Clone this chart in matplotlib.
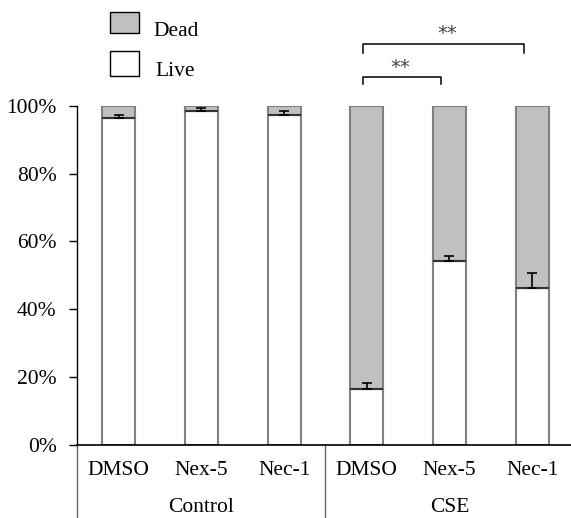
import numpy as np
import matplotlib.pyplot as plt
from matplotlib.patches import Rectangle
import matplotlib.transforms as mtransforms

plt.rcParams['font.family'] = ['Liberation Serif', 'DejaVu Serif']

# -------------------
# DATA
# -------------------
groups = ["Control", "CSE"]
treatments = ["DMSO", "Nex-5", "Nec-1", "DMSO", "Nex-5", "Nec-1"]
live = [96.4, 98.4, 97.3, 16.5, 54.3, 46.2]
err = [1.0, 1.0, 1.0, 1.8, 1.3, 4.4]
dead = [100 - v for v in live]

# significance brackets: (start bar, end bar, label)
sig_pairs = [(3, 4, "**"), (3, 5, "**")]

# -------------------
# PLOT
# -------------------
fig = plt.figure(figsize=(5.71, 5.18), dpi=100)
ax = fig.add_axes([0.1357, 0.1415, 0.8643, 0.6544])

x = np.arange(len(treatments))
w = 0.40
edge = "#808080"

ax.bar(x, live, w, color="white", edgecolor=edge, linewidth=1.5, zorder=2)
ax.bar(x, dead, w, bottom=live, color="#c0c0c0", edgecolor=edge,
       linewidth=1.5, zorder=2)
# line between live and dead
ax.hlines(live, x - w / 2, x + w / 2, color="#333333", linewidth=1.5, zorder=3)
ax.errorbar(x, live, yerr=[np.zeros(len(err)), err], fmt="none",
            ecolor="black", elinewidth=1.2, capsize=3.5, capthick=1.2, zorder=4)

ax.set_xlim(-0.5, 5.47)
ax.set_ylim(0, 100)
ax.set_yticks([0, 20, 40, 60, 80, 100])
ax.set_yticklabels([f"{v}%" for v in range(0, 101, 20)], fontsize=15.5)
ax.tick_params(axis="y", direction="out", length=6, width=1, pad=9)
ax.set_xticks([])
for s in ["top", "right"]:
    ax.spines[s].set_visible(False)
ax.spines["left"].set_linewidth(1)
ax.spines["bottom"].set_linewidth(1.2)

# category labels
trans = mtransforms.blended_transform_factory(ax.transData, ax.transAxes)
for xi, t in zip(x, treatments):
    ax.text(xi, -0.075, t, transform=trans, ha="center", va="center",
            fontsize=15.5)
for gi, g in enumerate(groups):
    ax.text(gi * 3 + 1, -0.185, g, transform=trans, ha="center", va="center",
            fontsize=15.5)
for xs in [-0.5, 2.5]:
    ax.plot([xs, xs], [0, -0.22], transform=trans, color="#666666",
            linewidth=1, clip_on=False)

# significance brackets
levels = {(3, 4): (106.4, 108.6, 111.4), (3, 5): (115.6, 118.2, 121.4)}
for a, b, lab in sig_pairs:
    lo, hi, ty = levels[(a, b)]
    xa, xb = x[a] - 0.05, x[b] - 0.1
    ax.plot([xa, xa, xb, xb], [lo, hi, hi, lo], color="black",
            linewidth=1.1, clip_on=False)
    ax.text((xa + xb) / 2 + (0.05 if b == 5 else -0.02), ty, lab,
            ha="center", va="center", fontsize=14, color="#444444",
            family="DejaVu Sans")

# legend
W, H = 571, 518
def fig_rect(x0, y0, x1, y1, fc):
    fig.add_artist(Rectangle((x0 / W, 1 - y1 / H), (x1 - x0) / W, (y1 - y0) / H,
                             facecolor=fc, edgecolor="black", linewidth=1,
                             transform=fig.transFigure))

fig_rect(110, 12, 139, 33, "#c0c0c0")
fig_rect(110, 51, 139, 76, "white")
fig.text(153 / W, 1 - 32 / H, "Dead", ha="left", va="center", fontsize=15.5)
fig.text(155 / W, 1 - 72 / H, "Live", ha="left", va="center", fontsize=15.5)

fig.savefig("out.png", dpi=100)
